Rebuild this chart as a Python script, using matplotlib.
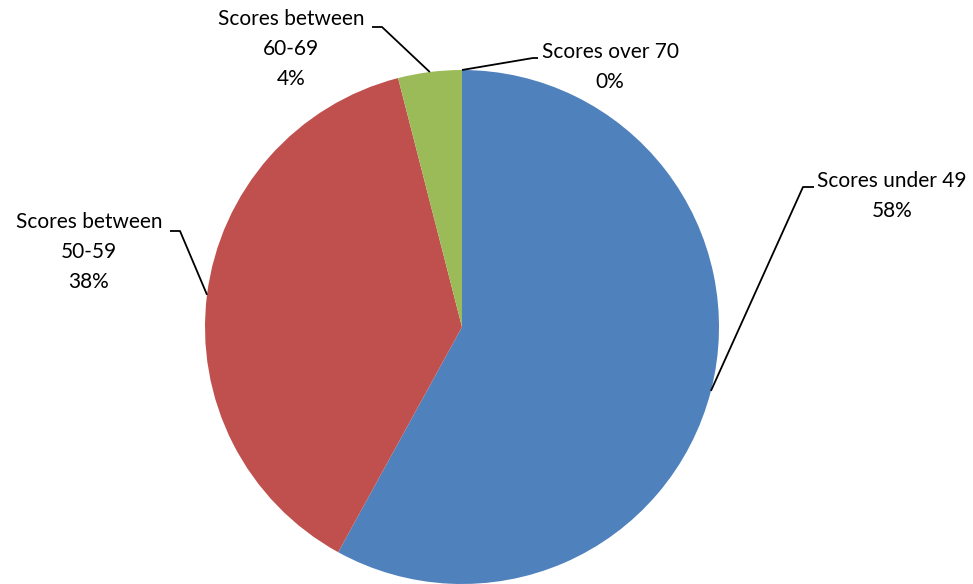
import numpy as np
import matplotlib
matplotlib.use('Agg')
import matplotlib.pyplot as plt

plt.rcParams['font.family'] = ['Lato', 'DejaVu Sans']

# data
categories = ['Scores under 49', 'Scores between\n50-59', 'Scores between\n60-69', 'Scores over 70']
values = [58, 38, 4, 0]
colors = ['#4F81BD', '#C0504D', '#9BBB59', '#8064A2']

# label layout (pixel coords, y measured from top)
label_pos = [(892, 196), (89, 252), (291, 49), (610, 67)]
elbow_pos = [[(803, 187), (814, 187)],
             [(180, 231), (170, 231)],
             [(382, 27), (372, 27)],
             [(533, 58), (538, 58)]]

W, H = 973, 584
cx, cy, r = 462, 327, 257


def main():
    fig = plt.figure(figsize=(W / 100, H / 100), dpi=100)
    ax = fig.add_axes([0, 0, 1, 1])
    wedges, _ = ax.pie(values, colors=colors, startangle=90, counterclock=False,
                       radius=r, center=(cx, H - cy), frame=True,
                       wedgeprops=dict(linewidth=0))
    ax.set_xlim(0, W)
    ax.set_ylim(0, H)
    ax.set_aspect('auto')
    ax.axis('off')

    total = sum(values)
    for i, w in enumerate(wedges):
        mid = np.deg2rad((w.theta1 + w.theta2) / 2)
        ax_x = cx + r * np.cos(mid)
        ax_y = (H - cy) + r * np.sin(mid)
        xs = [ax_x] + [p[0] for p in elbow_pos[i]]
        ys = [ax_y] + [H - p[1] for p in elbow_pos[i]]
        ax.plot(xs, ys, color='black', linewidth=1.3, solid_capstyle='butt')
        pct = round(values[i] / total * 100)
        lx, ly = label_pos[i]
        ax.text(lx, H - ly, f'{categories[i]}\n{pct}%', ha='center', va='center',
                fontsize=15, linespacing=1.6, color='black')

    fig.savefig('out.png', dpi=100)


if __name__ == '__main__':
    main()
